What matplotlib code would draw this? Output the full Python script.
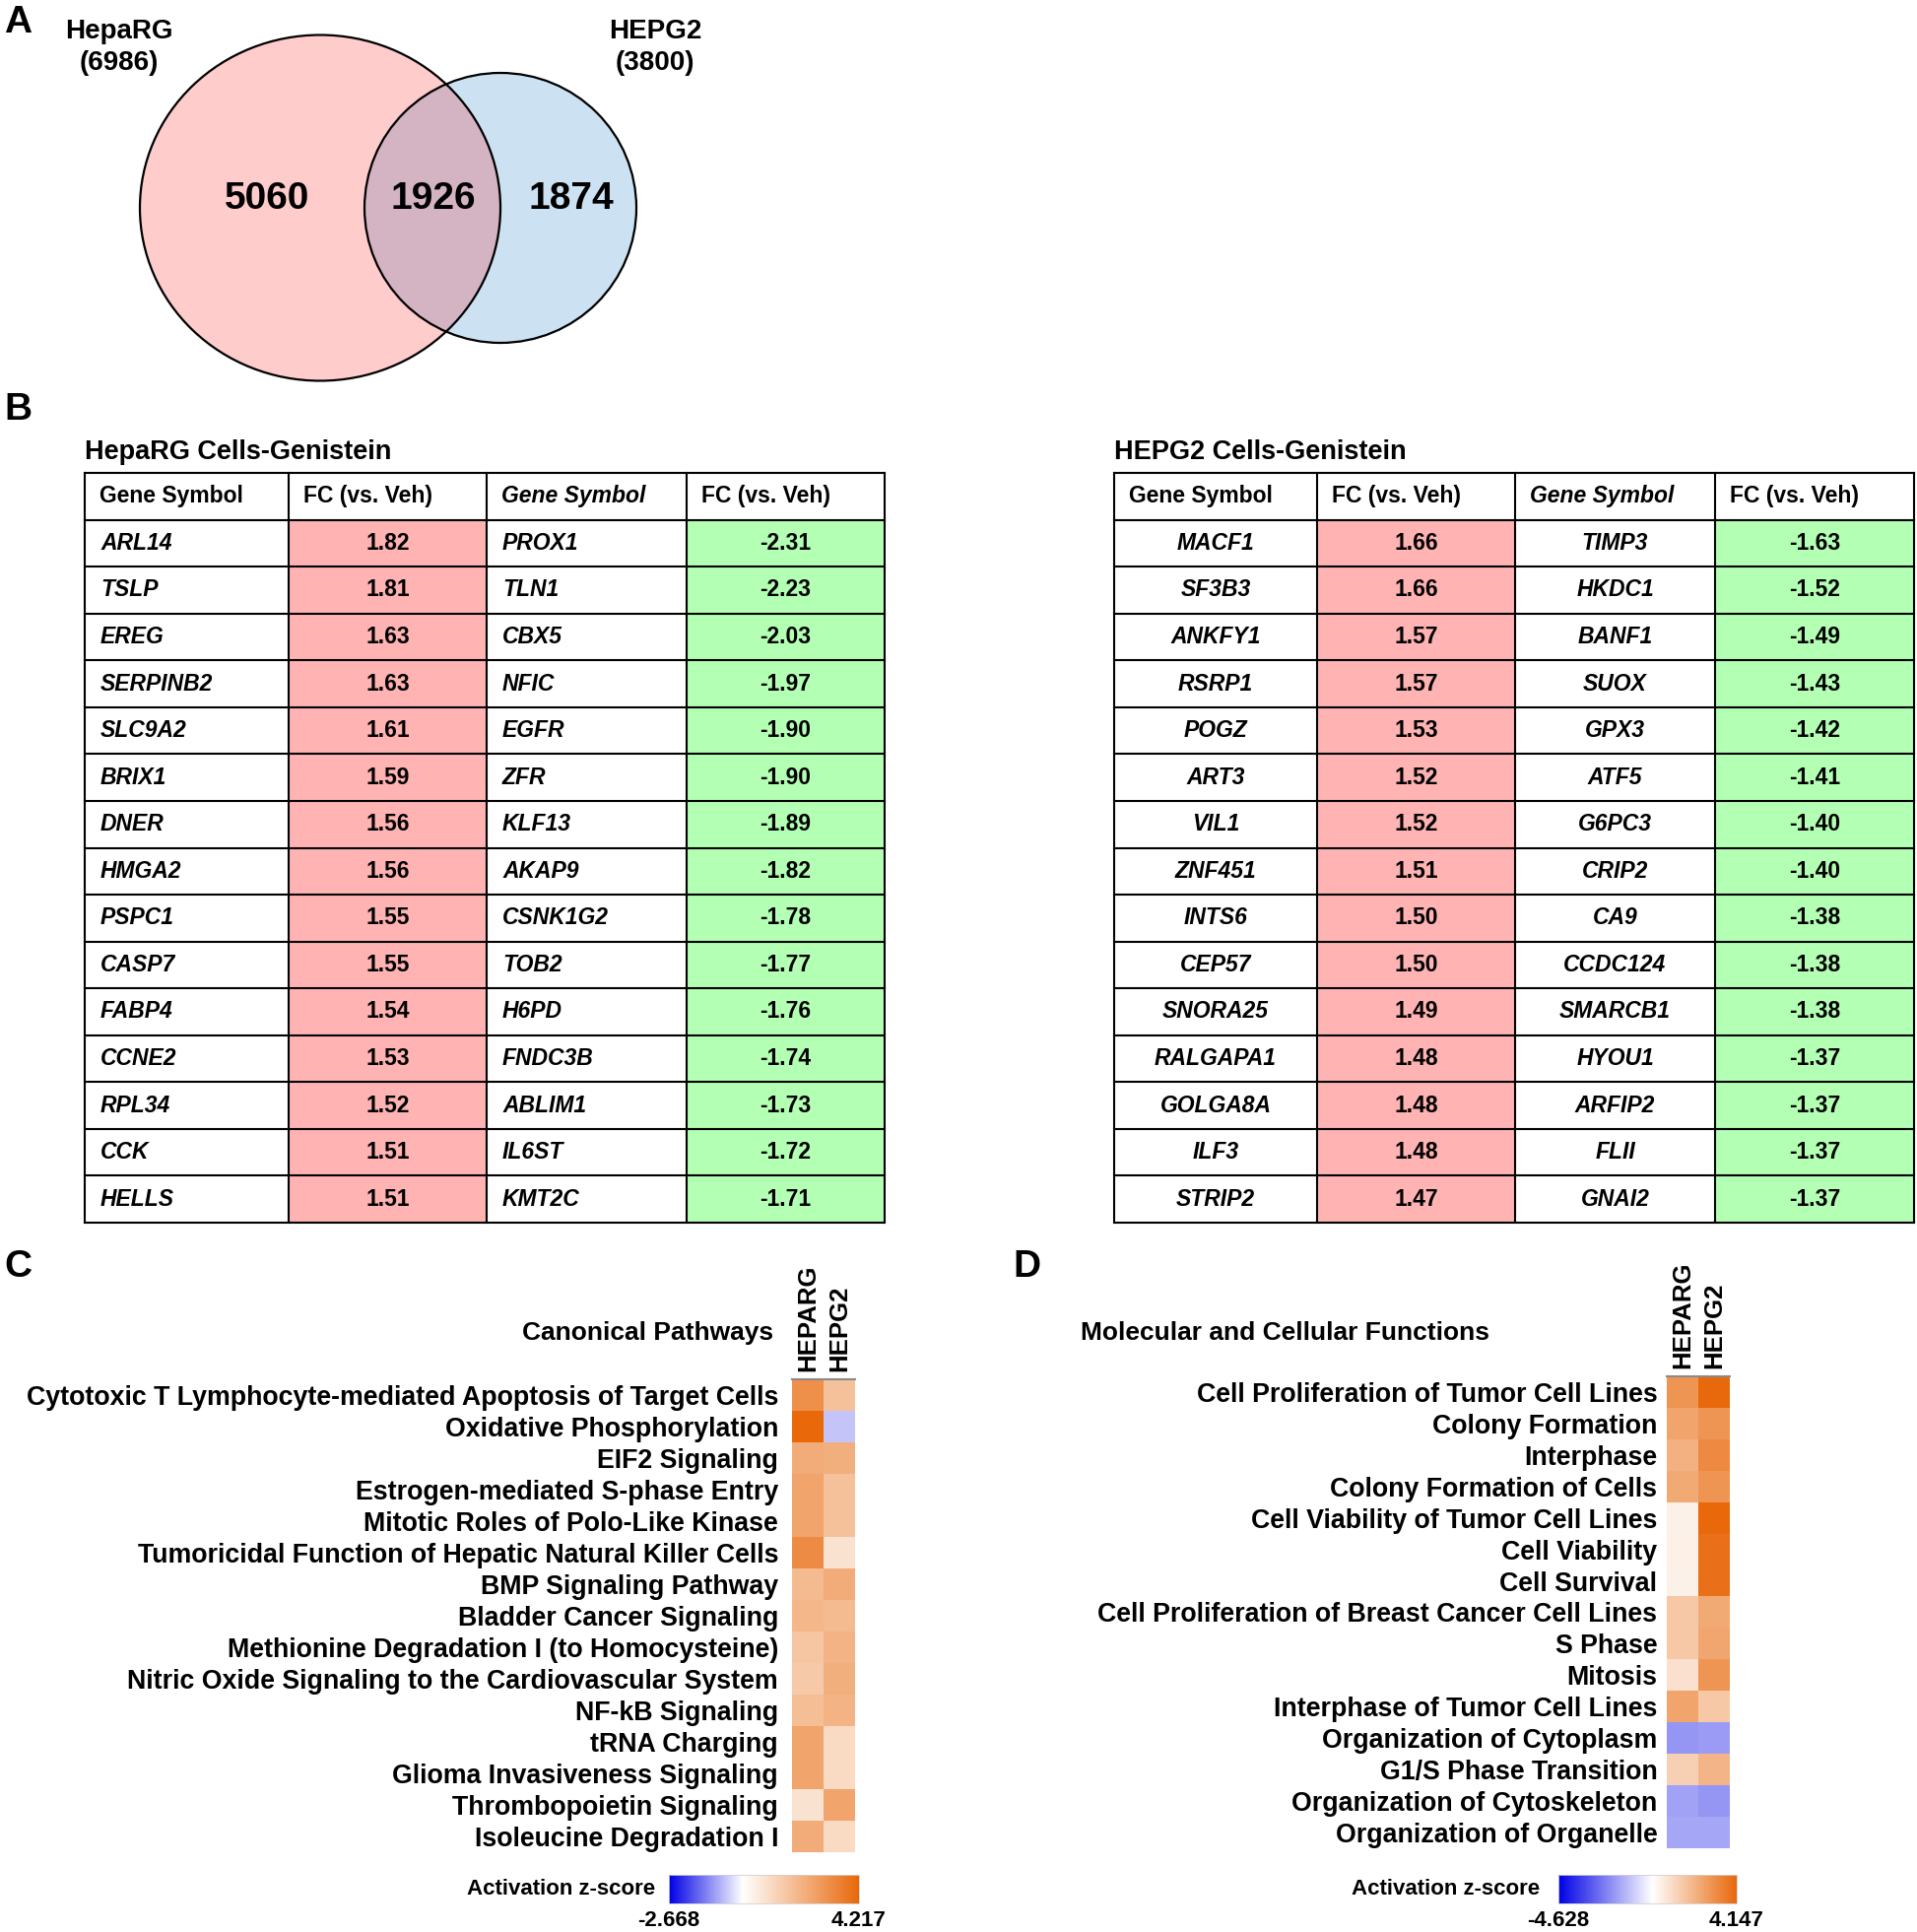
import numpy as np
import matplotlib.pyplot as plt
from matplotlib.patches import Ellipse, Rectangle
from matplotlib.colors import LinearSegmentedColormap, Normalize

W, H = 1946, 1961
NARROW = ["Liberation Sans Narrow", "Liberation Sans", "DejaVu Sans"]
ARIAL = ["Liberation Sans", "DejaVu Sans"]

# ---------------- data ----------------
venn_names = ["HepaRG", "HEPG2"]
venn_totals = [6986, 3800]
venn_counts = [5060, 1926, 1874]   # HepaRG only, both, HEPG2 only

table_header = ["Gene Symbol", "FC (vs. Veh)", "Gene Symbol", "FC (vs. Veh)"]

heparg_up_genes = ["ARL14", "TSLP", "EREG", "SERPINB2", "SLC9A2", "BRIX1", "DNER", "HMGA2",
                   "PSPC1", "CASP7", "FABP4", "CCNE2", "RPL34", "CCK", "HELLS"]
heparg_up_fc = [1.82, 1.81, 1.63, 1.63, 1.61, 1.59, 1.56, 1.56, 1.55, 1.55, 1.54, 1.53, 1.52, 1.51, 1.51]
heparg_down_genes = ["PROX1", "TLN1", "CBX5", "NFIC", "EGFR", "ZFR", "KLF13", "AKAP9",
                     "CSNK1G2", "TOB2", "H6PD", "FNDC3B", "ABLIM1", "IL6ST", "KMT2C"]
heparg_down_fc = [-2.31, -2.23, -2.03, -1.97, -1.90, -1.90, -1.89, -1.82, -1.78, -1.77, -1.76,
                  -1.74, -1.73, -1.72, -1.71]

hepg2_up_genes = ["MACF1", "SF3B3", "ANKFY1", "RSRP1", "POGZ", "ART3", "VIL1", "ZNF451",
                  "INTS6", "CEP57", "SNORA25", "RALGAPA1", "GOLGA8A", "ILF3", "STRIP2"]
hepg2_up_fc = [1.66, 1.66, 1.57, 1.57, 1.53, 1.52, 1.52, 1.51, 1.50, 1.50, 1.49, 1.48, 1.48, 1.48, 1.47]
hepg2_down_genes = ["TIMP3", "HKDC1", "BANF1", "SUOX", "GPX3", "ATF5", "G6PC3", "CRIP2",
                    "CA9", "CCDC124", "SMARCB1", "HYOU1", "ARFIP2", "FLII", "GNAI2"]
hepg2_down_fc = [-1.63, -1.52, -1.49, -1.43, -1.42, -1.41, -1.40, -1.40, -1.38, -1.38, -1.38,
                 -1.37, -1.37, -1.37, -1.37]

heat_columns = ["HEPARG", "HEPG2"]

cp_pathways = ["Cytotoxic T Lymphocyte-mediated Apoptosis of Target Cells",
               "Oxidative Phosphorylation", "EIF2 Signaling", "Estrogen-mediated S-phase Entry",
               "Mitotic Roles of Polo-Like Kinase",
               "Tumoricidal Function of Hepatic Natural Killer Cells", "BMP Signaling Pathway",
               "Bladder Cancer Signaling", "Methionine Degradation I (to Homocysteine)",
               "Nitric Oxide Signaling to the Cardiovascular System", "NF-kB Signaling",
               "tRNA Charging", "Glioma Invasiveness Signaling", "Thrombopoietin Signaling",
               "Isoleucine Degradation I"]
cp_heparg = [3.1, 4.217, 2.3, 2.5, 2.5, 3.2, 1.9, 2.0, 1.6, 1.5, 1.8, 2.5, 2.5, 0.8, 2.3]
cp_hepg2 = [1.7, -0.6, 2.2, 1.7, 1.7, 0.8, 2.3, 1.9, 2.1, 2.2, 2.1, 1.0, 1.0, 2.5, 1.0]
cp_range = (-2.668, 4.217)

mcf_functions = ["Cell Proliferation of Tumor Cell Lines", "Colony Formation", "Interphase",
                 "Colony Formation of Cells", "Cell Viability of Tumor Cell Lines",
                 "Cell Viability", "Cell Survival", "Cell Proliferation of Breast Cancer Cell Lines",
                 "S Phase", "Mitosis", "Interphase of Tumor Cell Lines",
                 "Organization of Cytoplasm", "G1/S Phase Transition",
                 "Organization of Cytoskeleton", "Organization of Organelle"]
mcf_heparg = [2.9, 2.5, 2.1, 2.3, 0.35, 0.4, 0.35, 1.5, 1.5, 0.8, 2.5, -1.9, 1.3, -1.7, -1.6]
mcf_hepg2 = [4.1, 2.9, 3.2, 2.9, 4.147, 3.9, 3.9, 2.3, 2.4, 2.9, 1.5, -1.8, 2.0, -1.9, -1.6]
mcf_range = (-4.628, 4.147)

# ---------------- figure ----------------
fig = plt.figure(figsize=(W / 100, H / 100), dpi=100)
canvas = fig.add_axes([0, 0, 1, 1])
canvas.set_xlim(0, W)
canvas.set_ylim(H, 0)
canvas.axis("off")


def frac(x0, y0, x1, y1):
    return [x0 / W, 1 - y1 / H, (x1 - x0) / W, (y1 - y0) / H]


# panel letters
for letter, (lx, ly) in zip("ABCD", [(4, 23), (4, 416), (4, 1286), (1028, 1286)]):
    canvas.text(lx, ly, letter, fontsize=28, fontweight="bold", family=ARIAL, ha="left", va="center")

# ---- A: Venn ----
left = Ellipse((325, 211), 366, 351, fc="#FFCCCC", ec="none")
right = Ellipse((508, 211), 276, 274, fc="#CCE2F2", ec="none")
canvas.add_patch(left)
canvas.add_patch(right)
both = Ellipse((325, 211), 366, 351, fc="#D4B4C2", ec="none")
canvas.add_patch(both)
both.set_clip_path(right)
for e in [Ellipse((325, 211), 366, 351), Ellipse((508, 211), 276, 274)]:
    e.set_fill(False)
    e.set_edgecolor("black")
    e.set_linewidth(1.6)
    canvas.add_patch(e)

for (tx, name, tot) in zip([121, 665], venn_names, venn_totals):
    canvas.text(tx, 48, f"{name}\n({tot})", fontsize=20, fontweight="bold", family=NARROW,
                ha="center", va="center", linespacing=1.3)
for cx, n in zip([271, 440, 580], venn_counts):
    canvas.text(cx, 202, str(n), fontsize=28, fontweight="bold", family=NARROW, ha="center", va="center")


# ---- B: tables ----
def draw_table(cols, title, up_genes, up_fc, down_genes, down_fc, center_genes):
    top, bottom = 480, 1241
    nrows = len(up_genes) + 1
    rh = (bottom - top) / nrows
    canvas.text(cols[0], 459, title, fontsize=19.5, fontweight="bold", family=NARROW, ha="left", va="center")
    for r in range(1, nrows):
        y = top + r * rh
        canvas.add_patch(Rectangle((cols[1], y), cols[2] - cols[1], rh, fc="#FFB3B3", ec="none"))
        canvas.add_patch(Rectangle((cols[3], y), cols[4] - cols[3], rh, fc="#B3FFB3", ec="none"))
    for r in range(nrows + 1):
        y = top + r * rh
        canvas.plot([cols[0], cols[-1]], [y, y], color="black", lw=1.5, solid_capstyle="projecting")
    for c in cols:
        canvas.plot([c, c], [top, bottom], color="black", lw=1.5, solid_capstyle="projecting")
    for j, h in enumerate(table_header):
        canvas.text(cols[j] + 15, top + rh / 2, h, fontsize=16.5, fontweight="bold", family=NARROW,
                    style="italic" if j == 2 else "normal", ha="left", va="center")
    for i in range(len(up_genes)):
        yc = top + (i + 1.5) * rh
        for j, (g, v) in enumerate([(up_genes[i], up_fc[i]), (down_genes[i], down_fc[i])]):
            c0, c1, c2 = cols[2 * j], cols[2 * j + 1], cols[2 * j + 2]
            if center_genes:
                canvas.text((c0 + c1) / 2, yc, g, fontsize=16.5, fontweight="bold", style="italic",
                            family=NARROW, ha="center", va="center")
            else:
                canvas.text(c0 + 16, yc, g, fontsize=16.5, fontweight="bold", style="italic",
                            family=NARROW, ha="left", va="center")
            canvas.text((c1 + c2) / 2, yc, f"{v:.2f}", fontsize=16.5, fontweight="bold",
                        family=NARROW, ha="center", va="center")


draw_table([86, 293, 494, 697, 898], "HepaRG Cells-Genistein",
           heparg_up_genes, heparg_up_fc, heparg_down_genes, heparg_down_fc, False)
draw_table([1131, 1337, 1538, 1741, 1943], "HEPG2 Cells-Genistein",
           hepg2_up_genes, hepg2_up_fc, hepg2_down_genes, hepg2_down_fc, True)


# ---- C / D: heatmaps ----
def draw_heatmap(box, labels, v1, v2, vrange, cbox, lab_right, ypad):
    vmin, vmax = vrange
    f = -vmin / (vmax - vmin)
    cmap = LinearSegmentedColormap.from_list("z", [(0, "#0000E6"), (f, "#FFFFFF"), (1, "#E8680A")])
    ax = fig.add_axes(frac(*box))
    im = ax.imshow(np.column_stack([v1, v2]), cmap=cmap, norm=Normalize(vmin, vmax),
                   aspect="auto", interpolation="nearest")
    ax.set_yticks(range(len(labels)))
    ax.set_yticklabels(labels, fontsize=19.3, fontweight="bold", family=ARIAL)
    ax.xaxis.tick_top()
    ax.set_xticks(range(len(heat_columns)))
    ax.set_xticklabels(heat_columns, rotation=90, fontsize=18.5, fontweight="bold", family=ARIAL)
    ax.tick_params(length=0)
    ax.tick_params(axis="y", pad=ypad)
    ax.tick_params(axis="x", pad=6)
    for s in ax.spines.values():
        s.set_visible(False)
    ax.spines["top"].set_visible(True)
    ax.spines["top"].set_color("#8a8a8a")
    ax.spines["top"].set_linewidth(1.5)

    cax = fig.add_axes(frac(*cbox))
    cb = fig.colorbar(im, cax=cax, orientation="horizontal", ticks=[vmin, vmax])
    cb.ax.set_xticklabels([f"{vmin:.3f}", f"{vmax:.3f}"], fontsize=16, fontweight="bold", family=ARIAL)
    cb.ax.tick_params(length=0, pad=5)
    cb.outline.set_linewidth(0.6)
    cb.outline.set_edgecolor("#d0d0d0")
    canvas.text(lab_right, (cbox[1] + cbox[3]) / 2, "Activation z-score", fontsize=16,
                fontweight="bold", family=ARIAL, ha="right", va="center")


draw_heatmap((804, 1400, 868, 1880), cp_pathways, cp_heparg, cp_hepg2, cp_range,
             (679, 1903, 872, 1932), 665, 10)
canvas.text(785, 1353, "Canonical Pathways", fontsize=19, fontweight="bold", family=ARIAL,
            ha="right", va="center")

draw_heatmap((1692, 1397, 1756, 1876), mcf_functions, mcf_heparg, mcf_hepg2, mcf_range,
             (1582, 1903, 1763, 1932), 1563, 7)
canvas.text(1097, 1353, "Molecular and Cellular Functions", fontsize=19, fontweight="bold",
            family=ARIAL, ha="left", va="center")

fig.savefig("out.png", dpi=100)
